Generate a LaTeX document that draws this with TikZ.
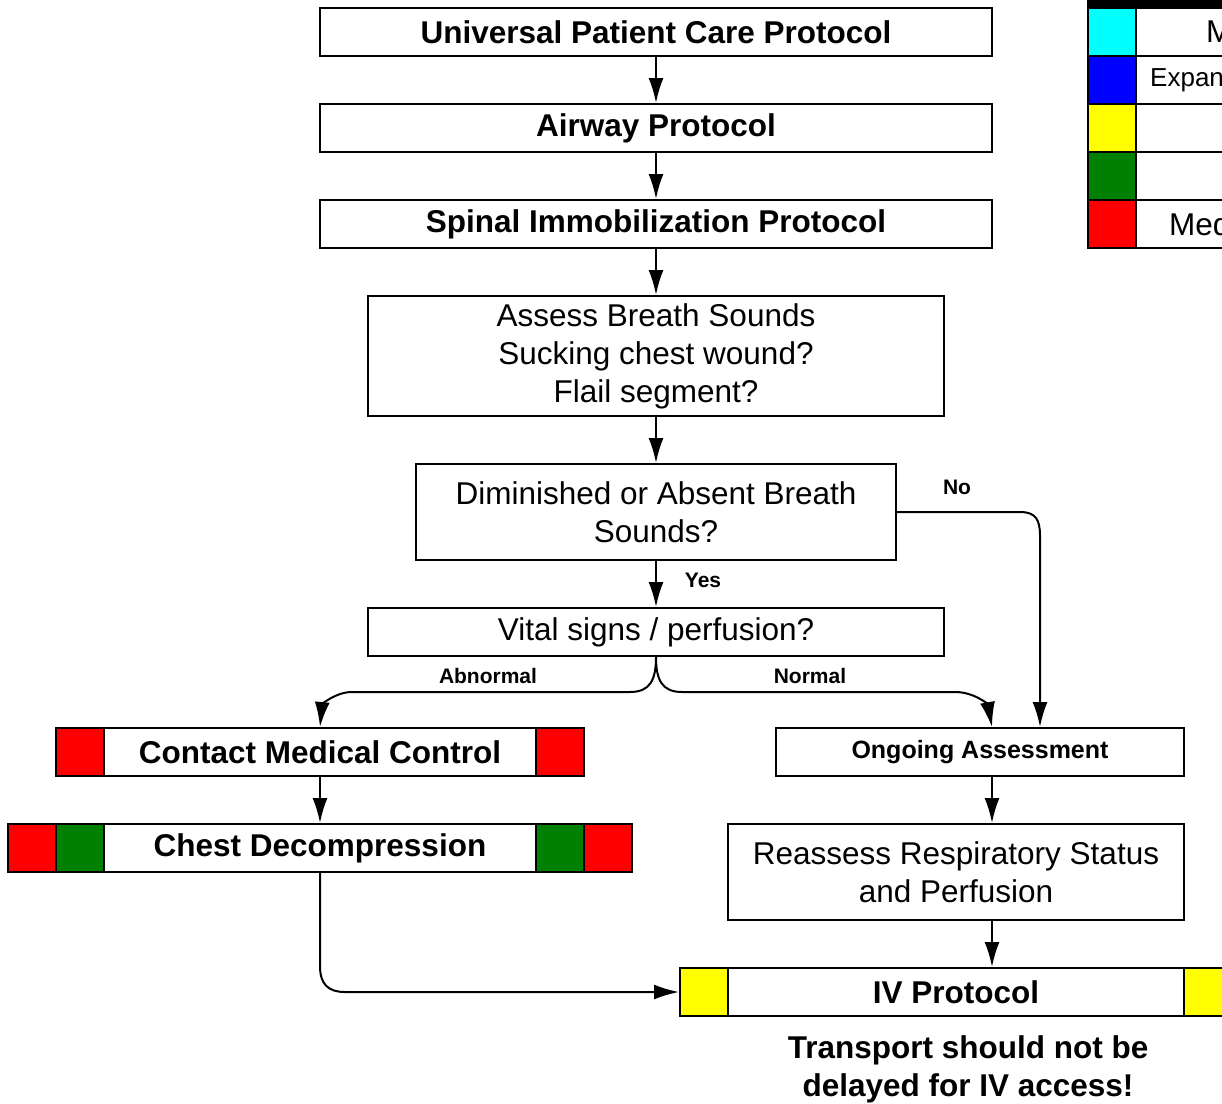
\documentclass[tikz,border=0pt]{standalone}
\usepackage{fontspec}
\setmainfont{Liberation Sans}
\usetikzlibrary{arrows.meta}
\definecolor{cRed}{HTML}{FF0000}
\definecolor{cGreen}{HTML}{008000}
\definecolor{cYellow}{HTML}{FFFF00}
\definecolor{cCyan}{HTML}{00FFFF}
\definecolor{cBlue}{HTML}{0000FF}
\begin{document}
\begin{tikzpicture}[x=1pt,y=-1pt,
 box/.style={draw,line width=2pt,inner sep=0pt,fill=white,align=center,font=\fontsize{31.5}{38}\selectfont},
 bbox/.style={box,font=\fontsize{31.5}{38}\selectfont\bfseries},
 sq/.style={draw,line width=2pt,minimum width=48pt,minimum height=48pt,inner sep=0pt},
 lbl/.style={font=\fontsize{21}{25}\selectfont\bfseries,inner sep=0pt},
 arr/.style={line width=2pt,-{Latex[length=25pt,width=15pt]}},
]
\useasboundingbox (0,0) rectangle (1222,1103);
\clip (0,0) rectangle (1222,1103);
\fill[white] (0,0) rectangle (1222,1103);

% main boxes
\node[bbox,minimum width=672pt,minimum height=48pt] (upc) at (656,32) {Universal Patient Care Protocol};
\node[bbox,minimum width=672pt,minimum height=48pt] (air) at (656,128) {Airway Protocol};
\node[bbox,minimum width=672pt,minimum height=48pt] (spi) at (656,224) {Spinal Immobilization Protocol};
\node[box,minimum width=576pt,minimum height=120pt] (ass) at (656,356) {Assess Breath Sounds\\Sucking chest wound?\\Flail segment?};
\node[box,minimum width=480pt,minimum height=96pt] (dim) at (656,512) {Diminished or Absent Breath\\Sounds?};
\node[box,minimum width=576pt,minimum height=48pt] (vit) at (656,632) {Vital signs / perfusion?};
\node[bbox,minimum width=528pt,minimum height=48pt] (cmc) at (320,752) {Contact Medical Control};
\node[bbox,minimum width=624pt,minimum height=48pt] (chd) at (320,848) {Chest Decompression};
\node[box,minimum width=408pt,minimum height=48pt,font=\fontsize{25}{30}\selectfont\bfseries] (ong) at (980,752) {Ongoing Assessment};
\node[box,minimum width=456pt,minimum height=96pt] (rea) at (956,872) {Reassess Respiratory Status\\and Perfusion};
\node[bbox,minimum width=552pt,minimum height=48pt] (ivp) at (956,992) {IV Protocol};
\node[font=\fontsize{31.5}{38}\selectfont\bfseries,align=center,inner sep=0pt] (note) at (968,1069) {Transport should not be\\delayed for IV access!};

% coloured squares
\node[sq,fill=cRed] (cmcL) at (80,752) {};
\node[sq,fill=cRed] (cmcR) at (560,752) {};
\node[sq,fill=cRed] (chdL1) at (32,848) {};
\node[sq,fill=cGreen] (chdL2) at (80,848) {};
\node[sq,fill=cGreen] (chdR1) at (560,848) {};
\node[sq,fill=cRed] (chdR2) at (608,848) {};
\node[sq,fill=cYellow] (ivL) at (704,992) {};
\node[sq,fill=cYellow] (ivR) at (1208,992) {};

% legend
\fill[black] (1087,0) rectangle (1240,8);
\foreach \yy/\cc [count=\i] in {32/cCyan,80/cBlue,128/cYellow,176/cGreen,224/cRed}{
  \node[sq,fill=\cc] (lg\i) at (1112,\yy) {};
  \draw[line width=2pt] (1136,\yy-24) rectangle (1300,\yy+24);
}
\node[anchor=west,inner sep=0pt,font=\fontsize{31.5}{38}\selectfont] (lt1) at (1206,32) {M};
\node[anchor=west,inner sep=0pt,font=\fontsize{26}{30}\selectfont] (lt2) at (1150,80) {Expanded};
\node[anchor=west,inner sep=0pt,font=\fontsize{31.5}{38}\selectfont] (lt5) at (1169,224) {Medical};

% connectors
\coordinate (xr) at (992,0);
\coordinate (xno) at (1040,0);
\draw[arr] (upc.south) -- (air.north);
\draw[arr] (air.south) -- (spi.north);
\draw[arr] (spi.south) -- (ass.north);
\draw[arr] (ass.south) -- (dim.north);
\draw[arr] (dim.south) -- (vit.north);
\draw[arr] (dim.east) -- (1020,512) .. controls (1036,512) and (1040,520) .. (1040,536) -- (ong.north -| xno);
\draw[arr] (vit.south) .. controls (656,680) and (650,692) .. (630,692) -- (352,692) .. controls (335,692) and (322,705) .. (cmc.north);
\draw[arr] (vit.south) .. controls (656,680) and (662,692) .. (682,692) -- (955,692) .. controls (975,692) and (988,705) .. (ong.north -| xr);
\draw[arr] (cmc.south) -- (chd.north);
\draw[arr] (chd.south) -- (320,966) .. controls (320,984) and (328,992) .. (345,992) -- (ivp.west);
\draw[arr] (ong.south -| xr) -- (rea.north -| xr);
\draw[arr] (rea.south -| xr) -- (ivp.north -| xr);

% labels
\node[lbl] (yes) at (703,580) {Yes};
\node[lbl] (no) at (957,487) {No};
\node[lbl] (abn) at (488,676) {Abnormal};
\node[lbl] (nor) at (810,676) {Normal};
\end{tikzpicture}
\end{document}
